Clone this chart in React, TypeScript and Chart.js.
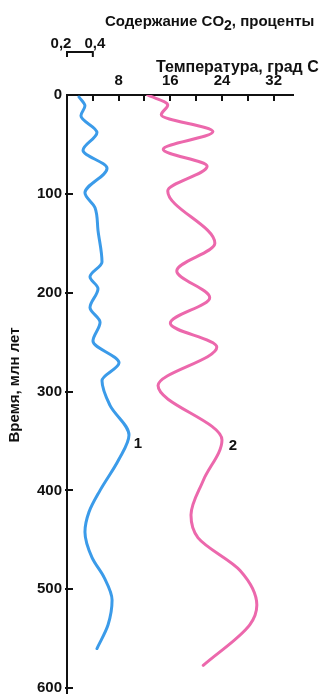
import React, { useEffect, useRef } from "react";
import { Chart, registerables } from "chart.js";

Chart.register(...registerables);

// Time axis (million years ago), pointing down
const timeTicks = [0, 100, 200, 300, 400, 500, 600];
const timeMax = 606;

// Temperature axis (°C) along the top
const tempTicks = [4, 8, 12, 16, 20, 24, 28, 32];
const tempLabels = [8, 16, 24, 32];
const tempMax = 35;

// CO2 scale shares the top axis: 0.2 % per 4 °C, starting at 0.2 %
const co2Min = 0.2;
const co2Max = 1.95;
const co2Bracket = [0.2, 0.4];

// Curve 1: CO2 content, percent
const co2Time = [2, 11, 21, 38, 56, 74, 99, 114, 137, 169, 184, 196, 215, 230, 249, 271, 289, 314, 344, 369, 400, 422, 442, 468, 488, 511, 536, 560];
const co2Values = [0.293, 0.339, 0.308, 0.432, 0.324, 0.51, 0.339, 0.417, 0.44, 0.471, 0.378, 0.44, 0.378, 0.456, 0.401, 0.603, 0.471, 0.533, 0.68, 0.6, 0.456, 0.37, 0.339, 0.394, 0.487, 0.549, 0.518, 0.432];

// Curve 2: temperature, °C
const tempTime = [0, 10, 20, 37, 55, 72, 97, 150, 178, 205, 231, 255, 294, 349, 390, 425, 448, 481, 516, 536, 577];
const tempValues = [12.5, 15.6, 14.6, 22.6, 14.9, 21.7, 15.6, 22.9, 17.0, 22.1, 16.0, 23.2, 14.1, 24.0, 21.1, 19.2, 20.3, 26.8, 29.4, 28.3, 21.1];

// Curve numbers, placed in temperature / time units
const curveNames = ["1", "2"];
const curveNameTemp = [11.0, 25.7];
const curveNameTime = [353, 355];

const BLUE = "#3b9be9";
const PINK = "#ec68ac";
const INK = "#111111";
const FONT_FAMILY = '"Liberation Sans", Arial, sans-serif';
const boldFont = (size: number) => `bold ${size}px ${FONT_FAMILY}`;

const annotations = {
  id: "annotations",
  afterDraw(chart: any) {
    const { ctx, scales } = chart;
    const x = scales.x;
    const xc = scales.xCo2;
    const y = scales.y;
    ctx.save();
    ctx.strokeStyle = INK;
    ctx.fillStyle = INK;
    ctx.lineWidth = 2;

    // inward tick marks
    ctx.beginPath();
    for (const v of timeTicks.slice(1)) {
      const py = Math.round(y.getPixelForValue(v));
      ctx.moveTo(x.left - 2, py);
      ctx.lineTo(x.left + 6, py);
    }
    for (const v of tempTicks) {
      const px = Math.round(x.getPixelForValue(v));
      ctx.moveTo(px, y.top);
      ctx.lineTo(px, y.top + 6);
    }
    ctx.stroke();

    // CO2 scale bracket
    const b0 = xc.getPixelForValue(co2Bracket[0]);
    const b1 = xc.getPixelForValue(co2Bracket[1]);
    ctx.beginPath();
    ctx.moveTo(b0, 57);
    ctx.lineTo(b0, 52);
    ctx.lineTo(b1, 52);
    ctx.lineTo(b1, 57);
    ctx.stroke();

    ctx.font = boldFont(15);
    ctx.textBaseline = "alphabetic";
    ctx.textAlign = "center";
    ctx.fillText("0,2", b0 - 6, 48);
    ctx.fillText("0,4", b1 + 2, 48);

    // CO2 title with subscript
    ctx.textAlign = "left";
    let tx = 105;
    const part1 = "Содержание CO";
    ctx.fillText(part1, tx, 26);
    tx += ctx.measureText(part1).width;
    ctx.font = boldFont(14);
    ctx.fillText("2", tx, 30);
    tx += ctx.measureText("2").width;
    ctx.font = boldFont(15);
    ctx.fillText(", проценты", tx, 26);

    // temperature title
    ctx.font = boldFont(16);
    ctx.fillText("Температура, град С", 156, 72);
    ctx.font = boldFont(15);

    // time axis title
    ctx.save();
    ctx.translate(15, 385);
    ctx.rotate(-Math.PI / 2);
    ctx.textAlign = "center";
    ctx.textBaseline = "middle";
    ctx.fillText("Время, млн лет", 0, 0);
    ctx.restore();

    // curve numbers
    ctx.textAlign = "center";
    ctx.textBaseline = "middle";
    curveNames.forEach((name, i) => {
      ctx.fillText(name, x.getPixelForValue(curveNameTemp[i]), y.getPixelForValue(curveNameTime[i]));
    });
    ctx.restore();
  },
};

export default function App() {
  const canvasRef = useRef<HTMLCanvasElement | null>(null);

  useEffect(() => {
    const canvas = canvasRef.current;
    if (!canvas) return;
    const chart = new Chart(canvas, {
      type: "line",
      data: {
        datasets: [
          {
            label: "CO2",
            data: co2Time.map((t, i) => ({ x: co2Values[i], y: t })),
            xAxisID: "xCo2",
            yAxisID: "y",
            borderColor: BLUE,
            borderWidth: 3,
            pointRadius: 0,
            cubicInterpolationMode: "monotone",
            borderCapStyle: "round",
          },
          {
            label: "Температура",
            data: tempTime.map((t, i) => ({ x: tempValues[i], y: t })),
            xAxisID: "x",
            yAxisID: "y",
            borderColor: PINK,
            borderWidth: 3,
            pointRadius: 0,
            cubicInterpolationMode: "monotone",
            borderCapStyle: "round",
          },
        ],
      },
      options: {
        indexAxis: "y",
        responsive: false,
        animation: false,
        devicePixelRatio: 1,
        layout: { padding: { top: 0, left: 0, right: 29, bottom: 0 } },
        plugins: {
          legend: { display: false },
          tooltip: { enabled: false },
        },
        scales: {
          x: {
            type: "linear",
            position: "top",
            min: 0,
            max: tempMax,
            grid: { display: false, drawTicks: false },
            border: { display: true, color: INK, width: 2 },
            afterBuildTicks: (scale: any) => {
              scale.ticks = tempTicks.map((v) => ({ value: v }));
            },
            afterFit: (scale: any) => {
              scale.height = 95;
              scale.paddingLeft = 0;
              scale.paddingRight = 0;
            },
            ticks: {
              autoSkip: false,
              maxRotation: 0,
              padding: 5,
              color: INK,
              font: { family: FONT_FAMILY, size: 15, weight: "bold" },
              callback: (v: any) => (tempLabels.includes(Number(v)) ? String(v) : ""),
            },
          },
          xCo2: {
            type: "linear",
            position: "top",
            display: false,
            min: co2Min,
            max: co2Max,
          },
          y: {
            type: "linear",
            position: "left",
            reverse: true,
            min: 0,
            max: timeMax,
            grid: { display: false, drawTicks: false },
            border: { display: true, color: INK, width: 2 },
            afterBuildTicks: (scale: any) => {
              scale.ticks = timeTicks.map((v) => ({ value: v }));
            },
            afterFit: (scale: any) => {
              scale.width = 67;
              scale.paddingTop = 0;
              scale.paddingBottom = 0;
            },
            ticks: {
              autoSkip: false,
              padding: 5,
              color: INK,
              font: { family: FONT_FAMILY, size: 15, weight: "bold" },
              callback: (v: any) => String(v),
            },
          },
        },
      },
      plugins: [annotations],
    } as any);
    return () => chart.destroy();
  }, []);

  return (
    <div style={{ position: "fixed", left: 0, top: 0, width: 322, height: 694, background: "#ffffff" }}>
      <canvas ref={canvasRef} width={322} height={694} style={{ display: "block", width: 322, height: 694 }} />
    </div>
  );
}
